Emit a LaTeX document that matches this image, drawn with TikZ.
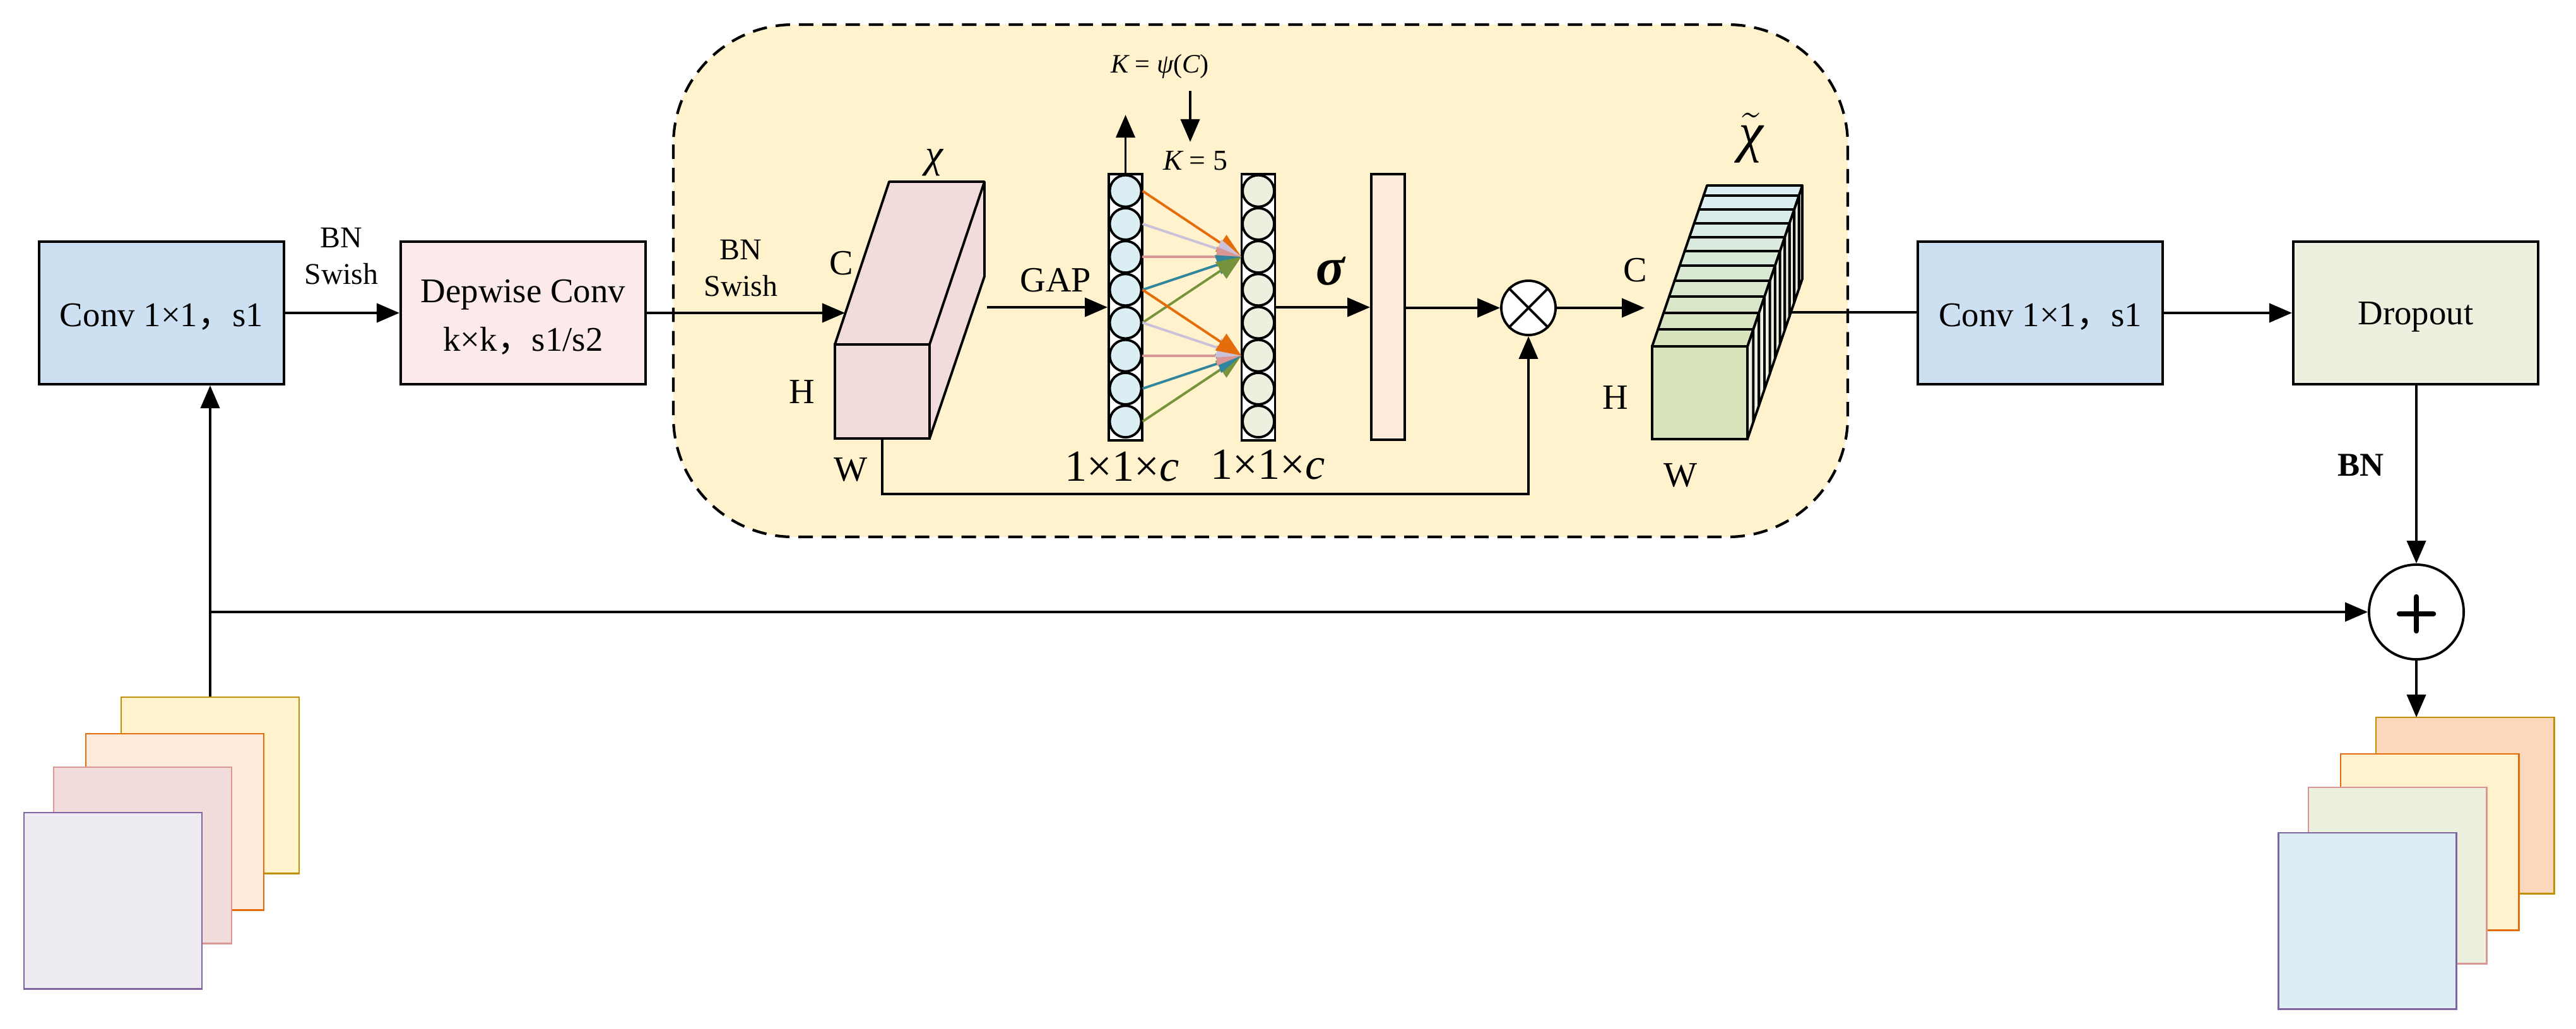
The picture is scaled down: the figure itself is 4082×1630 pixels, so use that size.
\documentclass[tikz,border=0pt]{standalone}
\usepackage{fontspec}
\setmainfont{Liberation Serif}
\newfontfamily\cjkfont{Noto Sans CJK SC}
\usetikzlibrary{arrows.meta}
\definecolor{boxblue}{HTML}{CCE0F1}
\definecolor{boxpink}{HTML}{FCE9E9}
\definecolor{boxgreen}{HTML}{EBF1DE}
\definecolor{panelyellow}{HTML}{FFF2CC}
\definecolor{cubepink}{HTML}{F2DCDB}
\definecolor{barpeach}{HTML}{FDEADA}
\definecolor{circblue}{HTML}{DBEEF4}
\definecolor{sheetpurple}{HTML}{EDEAF2}
\definecolor{sheetrust}{HTML}{FBD7BC}
\definecolor{linegold}{HTML}{BF9000}
\definecolor{lineorange}{HTML}{E46C0A}
\definecolor{linepink}{HTML}{D99694}
\definecolor{linepurple}{HTML}{8064A2}
\definecolor{linelav}{HTML}{CCC1DA}
\definecolor{lineteal}{HTML}{31859C}
\definecolor{lineolive}{HTML}{77933C}
\definecolor{frontmid}{HTML}{C4D79B}
\definecolor{fronttop}{HTML}{D8E4BC}
\tikzset{
  line/.style={line width=1.1pt, -{Triangle[length=3.6mm,width=3mm]}},
  plain/.style={line width=1.1pt},
  block/.style={draw, line width=1.1pt, minimum width=3.88cm, minimum height=2.26cm, inner sep=0pt, align=center, font=\fontsize{15.6}{22}\selectfont},
  sheet/.style={draw, line width=.8pt, minimum width=2.82cm, inner sep=0pt},
  ball/.style={draw, circle, line width=1.1pt, minimum size=.5cm, inner sep=0pt},
  txt/.style={inner sep=0pt, font=\fontsize{16}{18}\selectfont},
  small/.style={inner sep=0pt, align=center, font=\fontsize{13.6}{16.5}\selectfont},
  fan/.style={line width=1.1pt, -{Triangle[length=3.9mm,width=3.1mm]}},
}
\newcommand{\vsym}[1]{{\itshape #1}}
\newcommand{\lowfill}{\rule{0pt}{14pt}}
\begin{document}
\begin{tikzpicture}[x=.01cm, y=-.01cm]
  \useasboundingbox (0, 0) rectangle (4082, 1630);
  % panel
  \draw[line width=1.2pt, dash pattern=on 6.5pt off 4pt, fill=panelyellow, rounded corners=1.9cm] (1067, 39) rectangle (2928, 851);
  % blocks
  \node[block, fill=boxblue] (conva) at (256, 496) {\lowfill Conv 1×1{\cjkfont ，}s1};
  \node[block, fill=boxpink] (depth) at (829, 496) {\lowfill Depwise Conv\\k×k{\cjkfont ，}s1/s2};
  \node[block, fill=boxblue] (convb) at (3233, 496) {\lowfill Conv 1×1{\cjkfont ，}s1};
  \node[block, fill=boxgreen] (drop) at (3828, 496) {\lowfill Dropout};
  % input sheets
  \node[sheet, draw=linegold, fill=panelyellow, minimum height=2.79cm] (ina) at (333, 1244.5) {};
  \node[sheet, draw=lineorange, fill=barpeach, minimum height=2.79cm] (inb) at (277, 1302.5) {};
  \node[sheet, draw=linepink, fill=cubepink, minimum height=2.79cm] (inc) at (226, 1355.5) {};
  \node[sheet, draw=linepurple, fill=sheetpurple, minimum height=2.79cm] (ind) at (179, 1427.5) {};
  % output sheets
  \node[sheet, draw=linegold, fill=sheetrust, minimum height=2.79cm] (outa) at (3906, 1276.5) {};
  \node[sheet, draw=lineorange, fill=panelyellow, minimum height=2.79cm] (outb) at (3850, 1334.5) {};
  \node[sheet, draw=linepink, fill=boxgreen, minimum height=2.79cm] (outc) at (3799, 1387.5) {};
  \node[sheet, draw=linepurple, fill=circblue, minimum height=2.79cm] (outd) at (3751.5, 1459.5) {};
  % first cube
  \draw[plain, fill=cubepink, line join=round] (1323, 546) -- (1409, 288) -- (1560, 288) -- (1560, 438) -- (1473, 695) -- (1473, 546) -- cycle;
  \draw[plain] (1473, 546) -- (1560, 288);
  \node[draw, line width=1.1pt, fill=cubepink, minimum width=1.5cm, minimum height=1.49cm, inner sep=0pt] (cubea) at (1398, 620.5) {};
  \coordinate (cubeain) at (1339, 496);
  \coordinate (cubeaout) at (1564, 487);
  % circle columns
  \node[draw, line width=1.1pt, fill=white, minimum width=.53cm, minimum height=4.22cm, inner sep=0pt] (cola) at (1783.5, 487) {};
  \node[draw, line width=1.1pt, fill=white, minimum width=.53cm, minimum height=4.22cm, inner sep=0pt] (colb) at (1994, 487) {};
  \foreach \i in {1,...,8} {
    \node[ball, fill=circblue] (a\i) at (1783.5, 250.5+52.2*\i) {};
    \node[ball, fill=boxgreen] (b\i) at (1994, 250.5+52.2*\i) {};
  }
  % fans
  \foreach \src/\col in {a1/lineorange, a2/linelav, a3/linepink, a4/lineteal, a5/lineolive}
    \draw[fan, \col] (\src.east) -- (b3.west);
  \foreach \src/\col in {a8/lineolive, a7/lineteal, a6/linepink, a5/linelav, a4/lineorange}
    \draw[fan, \col] (\src.east) -- (b6.west);
  % bar and product
  \node[draw, line width=1.1pt, fill=barpeach, minimum width=.53cm, minimum height=4.21cm, inner sep=0pt] (bar) at (2199.5, 486.5) {};
  \node[draw, circle, line width=1.1pt, fill=white, minimum size=.86cm, inner sep=0pt] (times) at (2422, 488) {};
  \draw[plain] (times.45) -- (times.225) (times.135) -- (times.315);
  % second cube, sides
  \foreach \ya/\yb in {294/310,310/332,332/354,354/376,376/398,398/421,421/445,445/470,470/496,496/522,522/549} {
    \pgfmathsetmacro{\xa}{2769+(549-\ya)*.3412}
    \pgfmathsetmacro{\xb}{2769+(549-\yb)*.3412}
    \pgfmathsetmacro{\za}{696-(\xa-2769)*2.92}
    \pgfmathsetmacro{\zb}{696-(\xb-2769)*2.92}
    \draw[plain, fill=boxgreen, line join=round] (\xa, \ya) -- (\xa, \za) -- (\xb, \zb) -- (\xb, \yb) -- cycle;
  }
  % second cube, top slices
  \foreach \ya/\yb/\c in {294/310/0,310/332/10,332/354/20,354/376/30,376/398/40,398/421/50,421/445/60,445/470/70,470/496/80,496/522/90,522/549/100} {
    \pgfmathsetmacro{\xa}{2618+(549-\ya)*.3412}
    \pgfmathsetmacro{\xb}{2618+(549-\yb)*.3412}
    \colorlet{slice}{fronttop!\c!circblue}
    \draw[plain, fill=slice, line join=round] (\xa, \ya) -- (\xa+151, \ya) -- (\xb+151, \yb) -- (\xb, \yb) -- cycle;
  }
  \node[draw, line width=1.1pt, minimum width=1.51cm, minimum height=1.47cm, inner sep=0pt, top color=fronttop, middle color=frontmid, bottom color=fronttop] (cubeb) at (2693.5, 622.5) {};
  \coordinate (cubebin) at (2606, 488);
  \coordinate (cubebout) at (2836, 495);
  % adder
  \node[draw, circle, line width=1.1pt, fill=white, minimum size=1.5cm, inner sep=0pt] (plus) at (3829, 970) {};
  \draw[line width=2.4pt, line cap=round] (3802, 973) -- (3856, 973) (3829, 946) -- (3829, 1000);
  % links
  \draw[line] (conva.east) -- (depth.west);
  \draw[line] (depth.east) -- (cubeain);
  \draw[line] (cubeaout) -- (cubeaout -| cola.west);
  \draw[line] (colb.east) -- (colb.east -| bar.west);
  \draw[line] (bar.east |- times.west) -- (times.west);
  \draw[line] (times.east) -- (cubebin);
  \draw[plain] (cubebout) -- (cubebout -| convb.west);
  \draw[line] (convb.east) -- (drop.west);
  \draw[line] (drop.south -| plus.north) -- (plus.north);
  \coordinate (outtop) at (3829, 1137);
  \draw[line] (plus.south) -- (outtop);
  \draw[line] (ina.north) -- (ina.north |- conva.south);
  \coordinate (branch) at (333, 970);
  \draw[line] (branch) -- (plus.west);
  \draw[line] (cubea.south) -- ++(0, 86) -| (times.south);
  \coordinate (upend) at (1783.5, 182);
  \coordinate (downtop) at (1886, 144);
  \coordinate (downend) at (1886, 225);
  \draw[line] (cola.north) -- (upend);
  \draw[line] (downtop) -- (downend);
  % labels
  \node[small] (bna) at (541, 406) {BN\\Swish};
  \node[small] (bnb) at (1174, 425) {BN\\Swish};
  \node[font=\fontsize{15}{16}\selectfont\bfseries, inner sep=0pt] (bnc) at (3741, 737) {BN};
  \node[txt] (ca) at (1333, 417) {C};
  \node[txt] (ha) at (1271, 621) {H};
  \node[txt] (wa) at (1348, 744) {W};
  \node[txt] (gap) at (1673, 444) {GAP};
  \node[inner sep=0pt, font=\fontsize{18}{20}\selectfont] (chia) at (1480, 258) {\vsym{χ}};
  \node[inner sep=0pt, font=\fontsize{12}{14}\selectfont] (kpsi) at (1838, 105) {\vsym{K} = \vsym{ψ}(\vsym{C})};
  \node[inner sep=0pt, font=\fontsize{13}{15}\selectfont] (kfive) at (1894, 255) {\vsym{K} = 5};
  \node[inner sep=0pt, font=\fontsize{20}{22}\selectfont] (sizea) at (1778, 740) {1×1×\vsym{c}};
  \node[inner sep=0pt, font=\fontsize{20}{22}\selectfont] (sizeb) at (2009, 737) {1×1×\vsym{c}};
  \node[inner sep=0pt, font=\fontsize{24}{26}\selectfont\bfseries] (sig) at (2108, 430) {\vsym{σ}};
  \node[txt] (cb) at (2591, 428) {C};
  \node[txt] (hb) at (2560, 630) {H};
  \node[txt] (wb) at (2663, 753) {W};
  \node[inner sep=0pt, font=\fontsize{25}{27}\selectfont] (chib) at (2775, 219) {$\tilde{\mbox{\itshape χ}}$};
\end{tikzpicture}
\end{document}
